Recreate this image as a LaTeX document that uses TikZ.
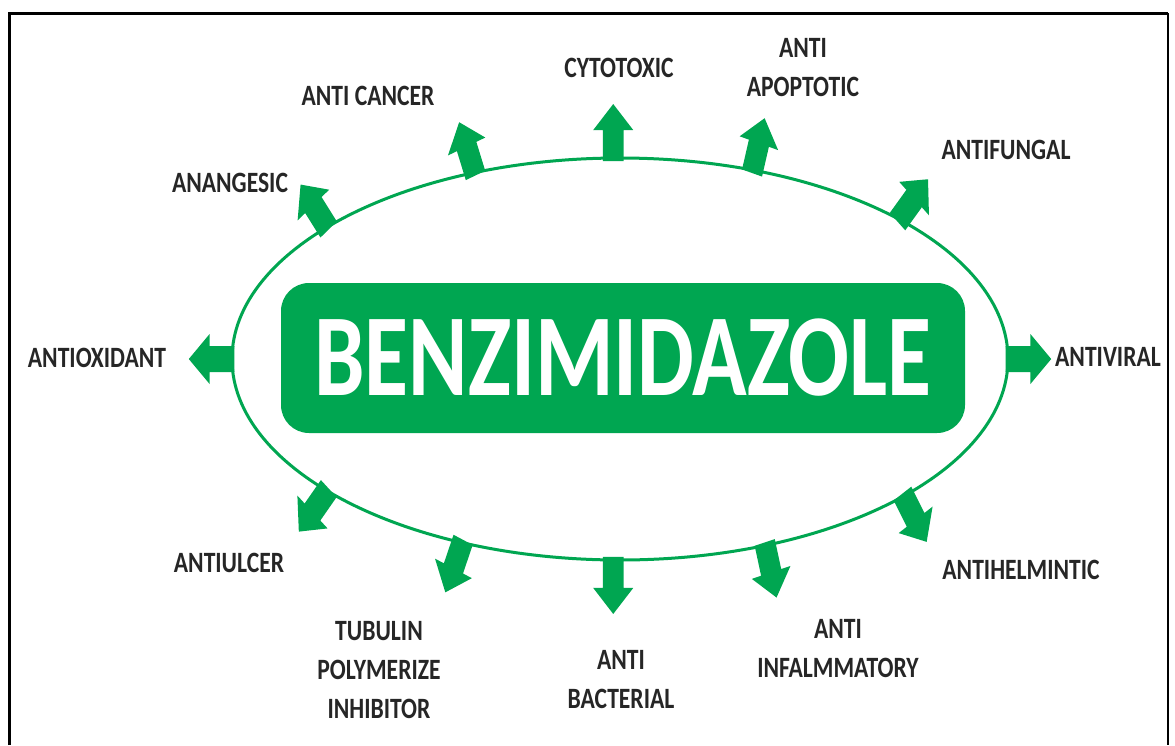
\documentclass[tikz,border=0pt]{standalone}
\usepackage{fontspec}
\newfontfamily\bzfont[FakeStretch=0.8]{Carlito}
\newfontfamily\bztitlefont[FakeStretch=0.77]{Carlito}
\definecolor{bzgreen}{RGB}{0,166,81}
\definecolor{bzink}{RGB}{38,38,38}
\newcommand\bzarrow[2]{%
  \fill[bzgreen, shift={({620+388*cos(#1)},{359-201*sin(#1)})}, xscale=0.8, rotate=#2]
    (-3,-13) -- (28,-13) -- (28,-25) -- (54,0) -- (28,25) -- (28,13) -- (-3,13) -- cycle;}
\tikzset{
  lbl/.style={text=bzink, align=center, inner sep=0pt, font=\bzfont\bfseries\fontsize{29.5}{39}\selectfont},
  titlebox/.style={fill=bzgreen, rounded corners=28pt, minimum width=684pt, minimum height=150pt,
     text=white, inner sep=0pt, font=\bztitlefont\bfseries\fontsize{117}{120}\selectfont},
  frame/.style={draw=black, line width=3pt}
}
\begin{document}
\begin{tikzpicture}[x=1pt, y=-1pt]
\useasboundingbox (0,0) rectangle (1175,745);
\fill[white] (0,0) rectangle (1175,745);
% frame (bottom edge lies outside the picture)
\draw[frame] (9,745) -- (9,13) -- (1168,13);
\draw[black, line width=1.8pt] (1168,13) -- (1168,745);
% ellipse
\draw[bzgreen, line width=3pt] (620,359) ellipse [x radius=388pt, y radius=201pt];
% arrows
\bzarrow{180}{180}
\bzarrow{139}{128}
\bzarrow{112}{111}
\bzarrow{91}{90}
\bzarrow{70}{74}
\bzarrow{44}{48}
\bzarrow{0}{0}
\bzarrow{-43}{-58}
\bzarrow{-68}{-75}
\bzarrow{-91}{-90}
\bzarrow{-114}{-113}
\bzarrow{-139}{-131}
% title
\node[titlebox] (title) at (623,358) {BENZIMIDAZOLE};
% labels
\node[lbl] (cancer) at (368,96) {ANTI CANCER};
\node[lbl] (anangesic) at (230,183) {ANANGESIC};
\node[lbl] (cytotoxic) at (619,68) {CYTOTOXIC};
\node[lbl] (apoptotic) at (803,68) {ANTI\\APOPTOTIC};
\node[lbl] (antifungal) at (1006,150) {ANTIFUNGAL};
\node[lbl] (antioxidant) at (97,358) {ANTIOXIDANT};
\node[lbl] (antiviral) at (1108,357) {ANTIVIRAL};
\node[lbl] (antiulcer) at (229,563) {ANTIULCER};
\node[lbl] (tubulin) at (379,670) {TUBULIN\\POLYMERIZE\\INHIBITOR};
\node[lbl] (bacterial) at (621,680) {ANTI\\BACTERIAL};
\node[lbl] (inflam) at (838,649) {ANTI\\INFALMMATORY};
\node[lbl] (helmintic) at (1021,570) {ANTIHELMINTIC};
\end{tikzpicture}
\end{document}
